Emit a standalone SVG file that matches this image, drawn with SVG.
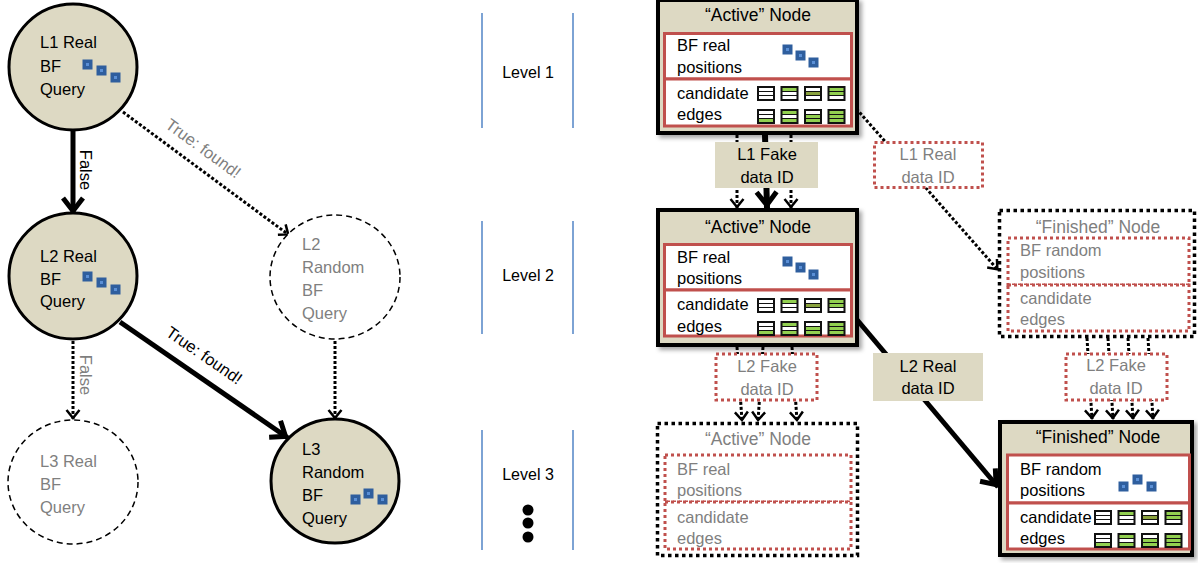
<svg xmlns="http://www.w3.org/2000/svg" xmlns:xlink="http://www.w3.org/1999/xlink" width="1198" height="563" viewBox="0 0 1198 563">
<style>
.t{font-family:"Liberation Sans",Arial,sans-serif;font-size:16.5px;fill:#000}
.g{fill:#7f7f7f}
.ti{font-size:17.5px;text-anchor:middle}
.mid{text-anchor:middle}
.circ{fill:#DDD9C3;stroke:#000;stroke-width:3}
.dcirc{fill:#fff;stroke:#000;stroke-width:1.5;stroke-dasharray:6 4}
.node{fill:#DDD9C3;stroke:#000;stroke-width:4}
.dnode{fill:#fff;stroke:#000;stroke-width:3.5;stroke-dasharray:3.5 3.5}
.rbox{fill:#fff;stroke:#C0504D;stroke-width:3}
.drbox{fill:#fff;stroke:#C0504D;stroke-width:3;stroke-dasharray:3 3}
.tan{fill:#DDD9C3}
.thick{stroke:#000;stroke-width:5;fill:none}
.dot{stroke:#000;stroke-width:3;stroke-dasharray:3 2;fill:none}
.lvl{stroke:#7DA3D4;stroke-width:2}
.sq{fill:#2E5E9E}
.sqi{fill:#5A8FD6}
.w{fill:#fff}
.gr{fill:#92D050}
.ol{fill:#8AA23E}
</style>
<defs>
<filter id="sh" x="-10%" y="-10%" width="130%" height="130%">
<feDropShadow dx="3" dy="3" stdDeviation="2" flood-color="#000" flood-opacity="0.35"/>
</filter>
<marker id="big" markerUnits="userSpaceOnUse" orient="auto" refX="3" refY="0" overflow="visible">
<path d="M-13,-10 L0,0 L-13,10" fill="none" stroke="#000" stroke-width="5"/>
</marker>
<marker id="sm" markerUnits="userSpaceOnUse" orient="auto" refX="1" refY="0" overflow="visible">
<path d="M-8,-6.5 L0,0 L-8,6.5" fill="none" stroke="#000" stroke-width="2.5"/>
</marker>
<g id="bsq"><rect x="-0.5" y="-0.5" width="10" height="10" class="sq"/><rect x="3" y="3" width="3" height="3" class="sqi"/></g>
<g id="fr"><rect width="18" height="15" fill="#111"/></g>
<g id="i0"><use xlink:href="#fr"/><rect x="2" y="2" width="14" height="3" class="w"/><rect x="2" y="6" width="14" height="3" class="w"/><rect x="2" y="10" width="14" height="3" class="w"/></g>
<g id="i1"><use xlink:href="#fr"/><rect x="2" y="2" width="14" height="3" class="gr"/><rect x="2" y="6" width="14" height="3" class="w"/><rect x="2" y="10" width="14" height="3" class="w"/></g>
<g id="i2"><use xlink:href="#fr"/><rect x="2" y="2" width="14" height="3" class="w"/><rect x="2" y="6" width="14" height="3" class="ol"/><rect x="2" y="10" width="14" height="3" class="w"/></g>
<g id="i3"><use xlink:href="#fr"/><rect x="2" y="2" width="14" height="3" class="gr"/><rect x="2" y="6" width="14" height="3" class="gr"/><rect x="2" y="10" width="14" height="3" class="w"/></g>
<g id="i4"><use xlink:href="#fr"/><rect x="2" y="2" width="14" height="3" class="w"/><rect x="2" y="6" width="14" height="3" class="w"/><rect x="2" y="10" width="14" height="3" class="gr"/></g>
<g id="i5"><use xlink:href="#fr"/><rect x="2" y="2" width="14" height="3" class="gr"/><rect x="2" y="6" width="14" height="3" class="w"/><rect x="2" y="10" width="14" height="3" class="gr"/></g>
<g id="i6"><use xlink:href="#fr"/><rect x="2" y="2" width="14" height="3" class="w"/><rect x="2" y="6" width="14" height="3" class="gr"/><rect x="2" y="10" width="14" height="3" class="gr"/></g>
<g id="i7"><use xlink:href="#fr"/><rect x="2" y="2" width="14" height="3" class="gr"/><rect x="2" y="6" width="14" height="3" class="gr"/><rect x="2" y="10" width="14" height="3" class="gr"/></g>
<g id="icons">
<use xlink:href="#i0" x="0" y="0"/><use xlink:href="#i1" x="23.5" y="0"/><use xlink:href="#i2" x="47" y="0"/><use xlink:href="#i3" x="70.5" y="0"/>
<use xlink:href="#i4" x="0" y="23"/><use xlink:href="#i5" x="23.5" y="23"/><use xlink:href="#i6" x="47" y="23"/><use xlink:href="#i7" x="70.5" y="23"/>
</g>
</defs>
<rect width="1198" height="563" fill="#fff"/>

<g id="connectors">
<line class="thick" x1="73" y1="131" x2="73" y2="214" marker-end="url(#big)"/>
<line class="dot" x1="123" y1="112" x2="289" y2="235" marker-end="url(#sm)"/>
<line class="thick" x1="120" y1="322" x2="288" y2="438" marker-end="url(#big)"/>
<line class="dot" x1="73" y1="341" x2="73" y2="419" marker-end="url(#sm)"/>
<line class="dot" x1="335" y1="341" x2="335" y2="419" marker-end="url(#sm)"/>
<line class="thick" x1="765" y1="135" x2="767" y2="208" marker-end="url(#big)" style="stroke-width:6"/>
<line class="dot" x1="737" y1="135" x2="737" y2="208" marker-end="url(#sm)"/>
<line class="dot" x1="791" y1="135" x2="791" y2="208" marker-end="url(#sm)"/>
<line class="dot" x1="737" y1="347" x2="742" y2="421" marker-end="url(#sm)"/>
<line class="dot" x1="763" y1="347" x2="758" y2="421" marker-end="url(#sm)"/>
<line class="dot" x1="792" y1="347" x2="797" y2="421" marker-end="url(#sm)"/>
<line class="dot" x1="853" y1="105" x2="998" y2="270" marker-end="url(#sm)"/>
<line class="thick" x1="853" y1="315" x2="998" y2="487" marker-end="url(#big)"/>
<line class="dot" x1="1087" y1="338" x2="1092" y2="419" marker-end="url(#sm)"/>
<line class="dot" x1="1108" y1="338" x2="1113" y2="419" marker-end="url(#sm)"/>
<line class="dot" x1="1128" y1="338" x2="1133" y2="419" marker-end="url(#sm)"/>
<line class="dot" x1="1148" y1="338" x2="1153" y2="419" marker-end="url(#sm)"/>
<text class="t" transform="translate(80,170) rotate(90)" text-anchor="middle">False</text>
<text class="t g" transform="translate(80,375) rotate(90)" text-anchor="middle">False</text>
<text class="t g" transform="translate(200,153) rotate(36)" text-anchor="middle">True: found!</text>
<text class="t" transform="translate(201,360) rotate(34.6)" text-anchor="middle">True: found!</text>
</g>

<g id="l1-real">
<ellipse class="circ" cx="73" cy="67" rx="64" ry="63"/>
<text class="t" x="40" y="48">L1 Real</text><text class="t" x="40" y="72">BF</text><text class="t" x="40" y="95">Query</text>
<use xlink:href="#bsq" x="83" y="60"/><use xlink:href="#bsq" x="97" y="66"/><use xlink:href="#bsq" x="111" y="73"/>
</g>
<g id="l2-real">
<ellipse class="circ" cx="73" cy="276" rx="64" ry="63"/>
<text class="t" x="40" y="262">L2 Real</text><text class="t" x="40" y="285">BF</text><text class="t" x="40" y="307">Query</text>
<use xlink:href="#bsq" x="83" y="272"/><use xlink:href="#bsq" x="97" y="278"/><use xlink:href="#bsq" x="111" y="285"/>
</g>
<g id="l2-random">
<ellipse class="dcirc" cx="335" cy="277" rx="65" ry="62"/>
<text class="t g" x="302" y="250">L2</text><text class="t g" x="302" y="273">Random</text><text class="t g" x="302" y="296">BF</text><text class="t g" x="302" y="319">Query</text>
</g>
<g id="l3-real">
<ellipse class="dcirc" cx="73" cy="482" rx="65" ry="62"/>
<text class="t g" x="40" y="467">L3 Real</text><text class="t g" x="40" y="490">BF</text><text class="t g" x="40" y="513">Query</text>
</g>
<g id="l3-random">
<ellipse class="circ" cx="335" cy="481" rx="64" ry="62"/>
<text class="t" x="302" y="455">L3</text><text class="t" x="302" y="478">Random</text><text class="t" x="302" y="501">BF</text><text class="t" x="302" y="524">Query</text>
<use xlink:href="#bsq" x="351" y="495"/><use xlink:href="#bsq" x="364" y="489"/><use xlink:href="#bsq" x="378" y="495"/>
</g>

<g id="levels">
<line class="lvl" x1="482" y1="13" x2="482" y2="128"/><line class="lvl" x1="573" y1="13" x2="573" y2="128"/>
<line class="lvl" x1="482" y1="221" x2="482" y2="334"/><line class="lvl" x1="573" y1="221" x2="573" y2="334"/>
<line class="lvl" x1="482" y1="430" x2="482" y2="550"/><line class="lvl" x1="573" y1="430" x2="573" y2="550"/>
<text class="t mid" x="528" y="78" style="font-size:16px">Level 1</text>
<text class="t mid" x="528" y="281" style="font-size:16px">Level 2</text>
<text class="t mid" x="528" y="480" style="font-size:16px">Level 3</text>
<circle cx="528" cy="510" r="5.5"/><circle cx="528" cy="523" r="5.5"/><circle cx="528" cy="537" r="5.5"/>
</g>

<g id="active-node-1">
<rect class="node" x="658" y="0" width="199" height="133" filter="url(#sh)"/>
<text class="t ti" x="758" y="21">“Active” Node</text>
<rect class="rbox" x="664.5" y="33.5" width="187" height="45.5"/>
<rect class="rbox" x="664.5" y="79" width="187" height="47"/>
<text class="t" x="677" y="51">BF real</text><text class="t" x="677" y="73">positions</text>
<use xlink:href="#bsq" x="783" y="45"/><use xlink:href="#bsq" x="796" y="51"/><use xlink:href="#bsq" x="809" y="58"/>
<text class="t" x="677" y="99">candidate</text><text class="t" x="677" y="120">edges</text>
<use xlink:href="#icons" x="757" y="86"/>
</g>
<g id="l1-fake">
<rect class="tan" x="715" y="142" width="103" height="46"/>
<text class="t mid" x="767" y="160">L1 Fake</text><text class="t mid" x="767" y="183">data ID</text>
</g>
<g id="l1-real-id">
<rect class="drbox" x="874.5" y="142.5" width="108" height="45"/>
<text class="t g mid" x="928" y="160">L1 Real</text><text class="t g mid" x="928" y="183">data ID</text>
</g>
<g id="active-node-2">
<rect class="node" x="658" y="210" width="199" height="135" filter="url(#sh)"/>
<text class="t ti" x="758" y="233">“Active” Node</text>
<rect class="rbox" x="664.5" y="244.5" width="187" height="45.5"/>
<rect class="rbox" x="664.5" y="290" width="187" height="46"/>
<text class="t" x="677" y="263">BF real</text><text class="t" x="677" y="284">positions</text>
<use xlink:href="#bsq" x="783" y="257"/><use xlink:href="#bsq" x="796" y="263"/><use xlink:href="#bsq" x="809" y="270"/>
<text class="t" x="677" y="310">candidate</text><text class="t" x="677" y="332">edges</text>
<use xlink:href="#icons" x="757" y="298"/>
</g>
<g id="finished-node-dotted">
<rect class="dnode" x="999.5" y="210.5" width="195" height="126"/>
<text class="t g ti" x="1098" y="233">“Finished” Node</text>
<rect class="drbox" x="1008" y="238" width="181" height="47"/>
<rect class="drbox" x="1008" y="285" width="181" height="46"/>
<text class="t g" x="1020" y="256">BF random</text><text class="t g" x="1020" y="278">positions</text>
<text class="t g" x="1020" y="304">candidate</text><text class="t g" x="1020" y="325">edges</text>
</g>
<g id="l2-fake">
<rect class="drbox" x="716" y="354" width="101" height="46"/>
<text class="t g mid" x="767" y="372">L2 Fake</text><text class="t g mid" x="767" y="395">data ID</text>
</g>
<g id="l2-real-id">
<rect class="tan" x="873" y="353" width="110" height="48"/>
<text class="t mid" x="928" y="372">L2 Real</text><text class="t mid" x="928" y="394">data ID</text>
</g>
<g id="l2-fake-2">
<rect class="drbox" x="1066" y="354" width="101" height="46"/>
<text class="t g mid" x="1116" y="371">L2 Fake</text><text class="t g mid" x="1116" y="394">data ID</text>
</g>
<g id="active-node-3">
<rect class="dnode" x="657.5" y="423.5" width="200" height="132"/>
<text class="t g ti" x="758" y="445">“Active” Node</text>
<rect class="drbox" x="665" y="455" width="186" height="47"/>
<rect class="drbox" x="665" y="502" width="186" height="47"/>
<text class="t g" x="677" y="475">BF real</text><text class="t g" x="677" y="496">positions</text>
<text class="t g" x="677" y="523">candidate</text><text class="t g" x="677" y="544">edges</text>
</g>
<g id="finished-node">
<rect class="node" x="1000" y="422" width="192" height="133" filter="url(#sh)"/>
<text class="t ti" x="1098" y="443">“Finished” Node</text>
<rect class="rbox" x="1007.5" y="455" width="182" height="48"/>
<rect class="rbox" x="1007.5" y="503" width="182" height="46"/>
<text class="t" x="1020" y="475">BF random</text><text class="t" x="1020" y="496">positions</text>
<use xlink:href="#bsq" x="1119" y="482"/><use xlink:href="#bsq" x="1133" y="475"/><use xlink:href="#bsq" x="1147" y="482"/>
<text class="t" x="1020" y="523">candidate</text><text class="t" x="1020" y="544">edges</text>
<use xlink:href="#icons" x="1094" y="510"/>
</g>
</svg>
